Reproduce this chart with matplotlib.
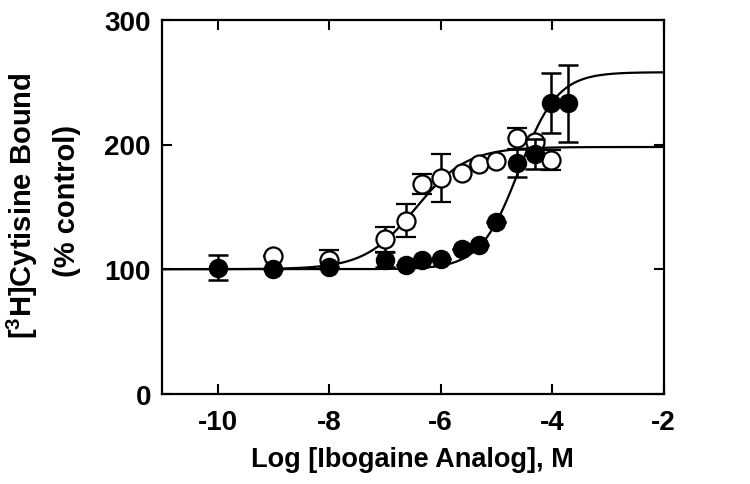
import numpy as np
import matplotlib
matplotlib.use("Agg")
import matplotlib.pyplot as plt

plt.rcParams['font.family'] = ['Liberation Sans', 'DejaVu Sans']
plt.rcParams['font.weight'] = 'bold'
plt.rcParams['axes.unicode_minus'] = False
plt.rcParams['mathtext.fontset'] = 'custom'
plt.rcParams['mathtext.rm'] = 'Liberation Sans:bold'
plt.rcParams['mathtext.bf'] = 'Liberation Sans:bold'

# Filled circles
filled_x = [-10, -9, -8, -7, -6.62, -6.33, -6.0, -5.62, -5.32, -5.01, -4.63, -4.31, -4.02, -3.72]
filled_y = [101, 100, 102, 107.5, 103.5, 107.5, 108.5, 116, 119, 137.5, 185, 192.5, 233, 233]
filled_err = [10, 0, 0, 6, 0, 0, 0, 0, 0, 0, 11, 12, 24, 31]

# Open circles
open_x = [-9, -8, -7, -6.62, -6.33, -6.0, -5.62, -5.32, -5.01, -4.63, -4.31, -4.02]
open_y = [110.5, 107.5, 124, 139, 168, 173, 177, 184.5, 187, 205, 202, 187.5]
open_err = [0, 7.5, 10, 13, 8, 19.5, 0, 0, 0, 8.5, 0, 8]

# Fitted sigmoid parameters: bottom, top, logEC50, Hill
open_fit = (100, 198, -6.45, 0.95)
filled_fit = (100, 258, -4.6, 1.25)

x_ticks = [-10, -8, -6, -4, -2]
y_ticks = [0, 100, 200, 300]


def sig(x, b, t, l, n):
    return b + (t - b) / (1 + 10 ** ((l - x) * n))


fig = plt.figure(figsize=(7.5, 4.85), dpi=100)
ax = fig.add_axes([0.216, 0.186, 0.669, 0.771])

xx = np.linspace(-11, -2, 500)
ax.plot(xx, sig(xx, *open_fit), color='black', lw=1.6, zorder=1)
ax.plot(xx, sig(xx, *filled_fit), color='black', lw=1.6, zorder=1)

ax.errorbar(open_x, open_y, yerr=open_err, fmt='o', ms=13, mfc='white', mec='black',
            mew=1.6, ecolor='black', elinewidth=1.8, capsize=7, capthick=1.8, zorder=3)
ax.errorbar(filled_x, filled_y, yerr=filled_err, fmt='o', ms=13, mfc='black', mec='black',
            ecolor='black', elinewidth=1.8, capsize=7, capthick=1.8, zorder=4)

ax.set_xlim(-11, -2)
ax.set_ylim(0, 300)
ax.set_xticks(x_ticks)
ax.set_yticks(y_ticks)
ax.tick_params(direction='in', length=7, width=1.5, top=True, right=True,
               labelsize=20, pad=8)
ax.tick_params(axis='x', pad=11)
for lab in ax.get_xticklabels() + ax.get_yticklabels():
    lab.set_fontweight('bold')
for s in ax.spines.values():
    s.set_linewidth(1.6)

ax.set_xlabel('Log [Ibogaine Analog], M', fontsize=19.5, fontweight='bold', labelpad=8)
fig.text(22 / 750, 0.575, '[$^{3}$H]Cytisine Bound', rotation=90, fontsize=21,
         fontweight='bold', ha='center', va='center')
fig.text(67 / 750, 0.585, '(% control)', rotation=90, fontsize=21,
         fontweight='bold', ha='center', va='center')

fig.savefig('out.png', dpi=100)
